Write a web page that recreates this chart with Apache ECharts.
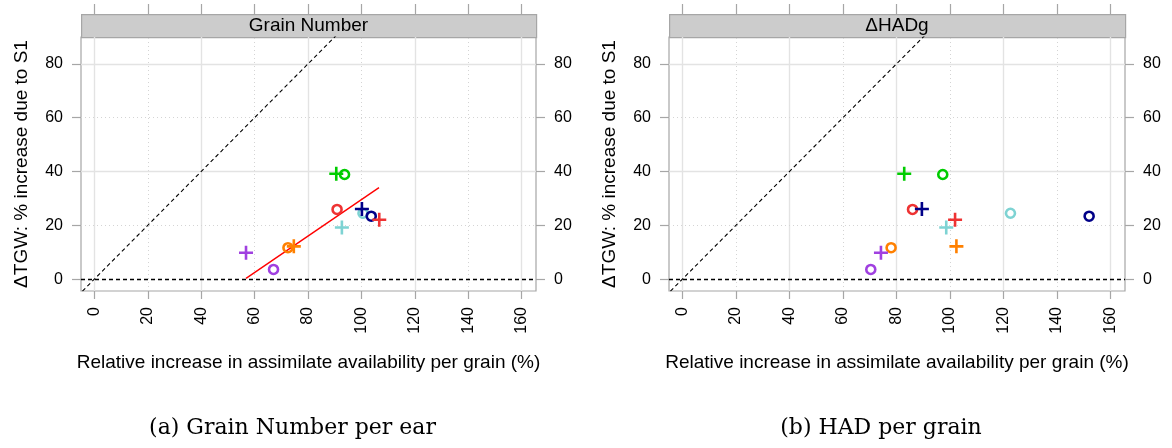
<!DOCTYPE html>
<html>
<head>
<meta charset="utf-8">
<script src="https://cdn.jsdelivr.net/npm/echarts@6/dist/echarts.min.js"></script>
<style>
html,body{margin:0;padding:0;background:#fff}
#chart{width:1172px;height:448px}
</style>
</head>
<body>
<div id="chart"></div>
<script>
// groups, same order everywhere: purple, orange, cyan, red, navy, green
var groupColors = ['#A040E0', '#FF8000', '#7ED3D3', '#EE3333', '#000088', '#00CC00'];

// y values (ΔTGW %), shared by both panels
var tgwCross  = [9.8, 12.2, 19.2, 22.1, 26.1, 39.2];
var tgwCircle = [3.6, 11.7, 24.5, 25.9, 23.4, 38.9];

// panel (a) Grain Number
var gnCross  = [56.8, 74.7, 92.7, 106.7, 100.2, 90.6];
var gnCircle = [67.1, 72.5, 100.6, 90.9, 103.7, 93.7];
// red fitted line in panel (a)
var gnFitX = [56.8, 106.6];
var gnFitY = [0.3, 34.0];

// panel (b) ΔHADg
var hadCross  = [74.2, 102.4, 98.6, 101.9, 89.5, 82.9];
var hadCircle = [70.4, 78.0, 122.6, 86.0, 152.0, 97.3];

var xTicks = [0, 20, 40, 60, 80, 100, 120, 140, 160];
var yTicks = [0, 20, 40, 60, 80];
var xGridMajor = [0, 40, 80, 120, 160];
var xGridMinor = [20, 60, 100, 140];
var yGridMajor = [40, 80];
var yGridMinor = [20, 60];
var oneToOne = [-10, 100];

var panelTitles = ['Grain Number', '\u0394HADg'];
var captions = ['(a) Grain Number per ear', '(b) HAD per grain'];
var xTitle = 'Relative increase in assimilate availability per grain (%)';
var yTitle = '\u0394TGW: % increase due to S1';

var SANS = 'Liberation Sans, Arial, sans-serif';
var SERIF = 'DejaVu Serif, serif';
var frameGray = '#a6a6a6';

var panels = [
    {left: 81, width: 455, cross: gnCross, circle: gnCircle, fit: true},
    {left: 669, width: 456, cross: hadCross, circle: hadCircle, fit: false}
];
var gridTop = 37, gridH = 254, stripH = 23;

var myChart = echarts.init(document.getElementById('chart'));

var grids = [], xAxes = [], yAxes = [], series = [], graphics = [];

function zip(xs, ys){
    return xs.map(function(x, i){ return [x, ys[i]]; });
}

panels.forEach(function(p, g){
    grids.push({left: p.left, top: gridTop, width: p.width, height: gridH,
        show: true, borderColor: frameGray, borderWidth: 1.2, backgroundColor: 'transparent'});

    // bottom axis with rotated labels
    xAxes.push({
        type: 'value', gridIndex: g, position: 'bottom', min: -5, max: 165.4,
        axisLine: {show: false, onZero: false},
        axisTick: {show: true, length: 8, customValues: xTicks, lineStyle: {color: frameGray, width: 1.2}},
        axisLabel: {customValues: xTicks, rotate: 90, margin: 16, fontSize: 16, color: '#000', fontFamily: SANS},
        splitLine: {show: false},
        name: xTitle, nameLocation: 'middle', nameGap: 62,
        nameTextStyle: {fontSize: 19, color: '#000', fontFamily: SANS}
    });
    // top axis: ticks only, above the strip
    xAxes.push({
        type: 'value', gridIndex: g, position: 'top', offset: stripH, min: -5, max: 165.4,
        axisLine: {show: false, onZero: false},
        axisTick: {show: true, length: 10, customValues: xTicks, lineStyle: {color: frameGray, width: 1.2}},
        axisLabel: {show: false},
        splitLine: {show: false}
    });
    yAxes.push({
        type: 'value', gridIndex: g, position: 'left', min: -4.4, max: 90,
        axisLine: {show: false, onZero: false},
        axisTick: {show: true, length: 9, customValues: yTicks, lineStyle: {color: frameGray, width: 1.2}},
        axisLabel: {customValues: yTicks, margin: 18, fontSize: 16, color: '#000', fontFamily: SANS},
        splitLine: {show: false},
        name: yTitle, nameLocation: 'middle', nameGap: 50,
        nameTextStyle: {fontSize: 19, color: '#000', fontFamily: SANS}
    });
    yAxes.push({
        type: 'value', gridIndex: g, position: 'right', min: -4.4, max: 90,
        axisLine: {show: false, onZero: false},
        axisTick: {show: true, length: 9, customValues: yTicks, lineStyle: {color: frameGray, width: 1.2}},
        axisLabel: {customValues: yTicks, margin: 18, fontSize: 16, color: '#000', fontFamily: SANS},
        splitLine: {show: false}
    });

    var xi = g * 2, yi = g * 2;
    var major = {color: '#e3e3e3', width: 1.4, type: 'solid'};
    var minor = {color: '#d4d4d4', width: 1, type: [1, 3]};
    var gridLines = []
        .concat(xGridMajor.map(function(v){ return {xAxis: v, lineStyle: major}; }))
        .concat(xGridMinor.map(function(v){ return {xAxis: v, lineStyle: minor}; }))
        .concat(yGridMajor.map(function(v){ return {yAxis: v, lineStyle: major}; }))
        .concat(yGridMinor.map(function(v){ return {yAxis: v, lineStyle: minor}; }))
        .concat([{yAxis: 0, lineStyle: {color: '#000', width: 1.3, type: [4, 3]}}]);

    // 1:1 line, carries the grid lines
    series.push({
        type: 'line', xAxisIndex: xi, yAxisIndex: yi, data: zip(oneToOne, oneToOne),
        symbol: 'none', silent: true, clip: true, z: 2,
        lineStyle: {color: '#000', width: 1.1, type: [4, 3]},
        markLine: {silent: true, symbol: 'none', label: {show: false}, data: gridLines, z: 1, animation: false},
        animation: false
    });
    if(p.fit){
        series.push({
            type: 'line', xAxisIndex: xi, yAxisIndex: yi, data: zip(gnFitX, gnFitY),
            symbol: 'none', silent: true, z: 3,
            lineStyle: {color: '#FF0000', width: 1.4}, animation: false
        });
    }
    series.push({
        type: 'scatter', xAxisIndex: xi, yAxisIndex: yi, z: 4,
        symbol: 'circle', symbolSize: 9,
        data: p.circle.map(function(x, i){
            return {value: [x, tgwCircle[i]],
                itemStyle: {color: 'rgba(0,0,0,0)', borderColor: groupColors[i], borderWidth: 2.6, opacity: 1}};
        }),
        animation: false
    });
    series.push({
        type: 'scatter', xAxisIndex: xi, yAxisIndex: yi, z: 5,
        symbol: 'path://M5.7 0h2.6v14h-2.6zM0 5.7h14v2.6h-14z', symbolSize: 14,
        data: p.cross.map(function(x, i){
            return {value: [x, tgwCross[i]], itemStyle: {color: groupColors[i], opacity: 1}};
        }),
        animation: false
    });

    // strip on top of the panel
    graphics.push({
        type: 'rect', left: p.left, top: gridTop - stripH,
        shape: {width: p.width, height: stripH},
        style: {fill: '#cccccc', stroke: frameGray, lineWidth: 1.2}
    });
    graphics.push({
        type: 'text', x: p.left + p.width / 2, y: gridTop - stripH / 2,
        style: {text: panelTitles[g], fontSize: 19, fontFamily: SANS, fill: '#000',
            textAlign: 'center', textVerticalAlign: 'middle'}
    });
    graphics.push({
        type: 'text', x: p.left + p.width / 2 - 16, y: 428,
        style: {text: captions[g], fontSize: 22, fontFamily: SERIF, fill: '#000',
            textAlign: 'center', textVerticalAlign: 'middle'}
    });
});

var option = {
    backgroundColor: '#fff',
    animation: false,
    grid: grids,
    xAxis: xAxes,
    yAxis: yAxes,
    series: series,
    graphic: graphics
};
myChart.setOption(option);
</script>
</body>
</html>
